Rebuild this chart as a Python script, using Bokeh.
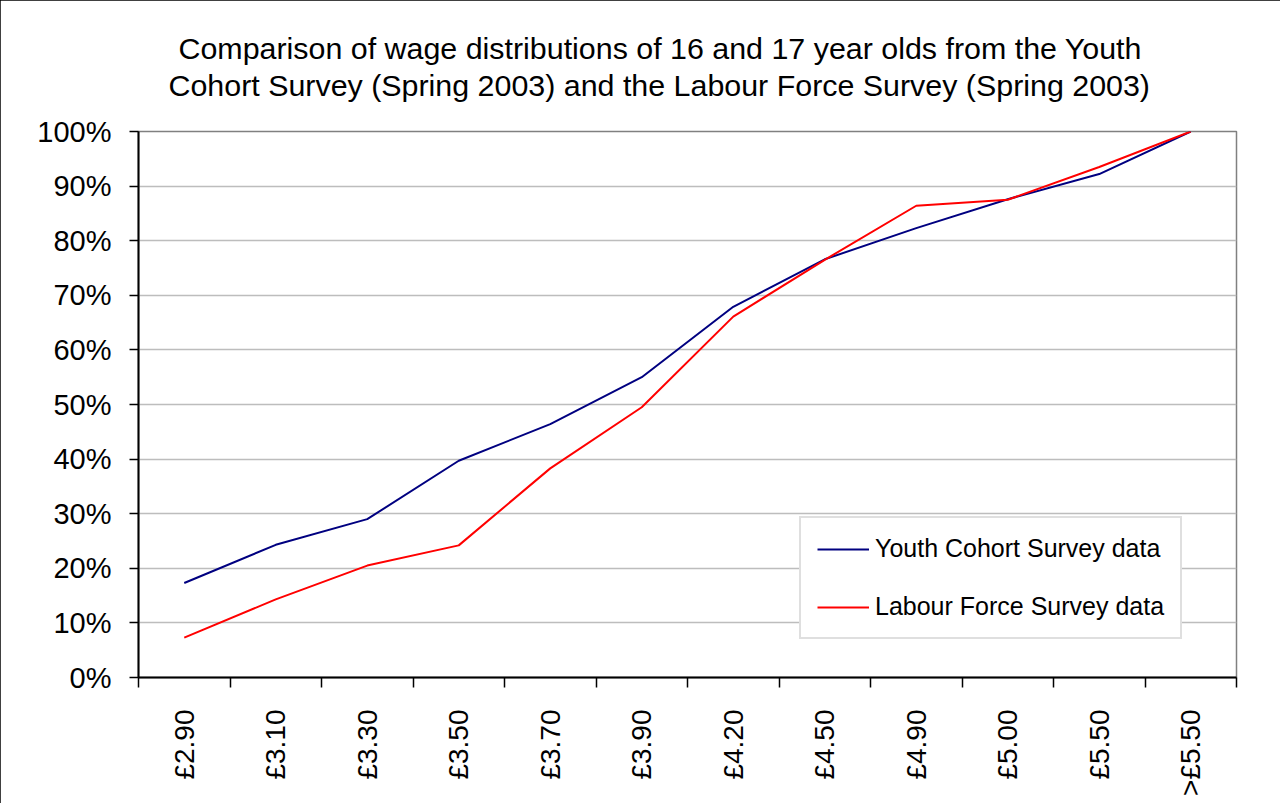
import math
from bokeh.plotting import figure
from bokeh.models import (Range1d, FixedTicker, Title, Legend, LegendItem)
from bokeh.embed import file_html
from bokeh.resources import INLINE

# ---- data ----
categories = ["£2.90", "£3.10", "£3.30", "£3.50", "£3.70", "£3.90",
              "£4.20", "£4.50", "£4.90", "£5.00", "£5.50", ">£5.50"]
youth_cohort = [17.3, 24.3, 29.0, 39.7, 46.4, 55.0, 67.9, 76.6, 82.3, 87.6, 92.2, 100.0]
labour_force = [7.3, 14.3, 20.5, 24.2, 38.3, 49.5, 66.1, 76.5, 86.4, 87.5, 93.5, 100.0]
y_ticks = [0, 10, 20, 30, 40, 50, 60, 70, 80, 90, 100]
y_tick_labels = ["0%", "10%", "20%", "30%", "40%", "50%", "60%", "70%", "80%", "90%", "100%"]
title_lines = ["Comparison of wage distributions of 16 and 17 year olds from the Youth",
               "Cohort Survey (Spring 2003) and the Labour Force Survey (Spring 2003)"]
series_names = ["Youth Cohort Survey data", "Labour Force Survey data"]

FONT = "Liberation Sans"

n = len(categories)
xs = [i + 0.5 for i in range(n)]

p = figure(width=1280, height=803, output_backend="svg", toolbar_location=None,
           x_range=Range1d(0, n), y_range=Range1d(0, 100),
           min_border_left=138, min_border_right=44,
           min_border_top=131, min_border_bottom=126)
p.styles = {"outline": "2px solid black", "outline-offset": "-2px"}
p.background_fill_color = "white"
p.border_fill_color = "white"
p.outline_line_color = "#808080"
p.outline_line_width = 1.5

# x axis: labels at slot centres, tick marks at slot boundaries
p.xaxis.ticker = FixedTicker(ticks=xs, minor_ticks=list(range(n + 1)))
p.xaxis.major_label_overrides = {x: c for x, c in zip(xs, categories)}
p.xaxis.major_label_orientation = math.pi / 2
p.xaxis.major_tick_line_color = None
p.xaxis.major_tick_out = 10
p.xaxis.major_tick_in = 0
p.xaxis.minor_tick_line_color = "black"
p.xaxis.minor_tick_line_width = 1.5
p.xaxis.minor_tick_out = 10
p.xaxis.minor_tick_in = 0
p.xaxis.major_label_standoff = 22
p.xaxis.major_label_text_font = FONT
p.xaxis.major_label_text_font_size = "28px"
p.xaxis.major_label_text_color = "black"
p.xaxis.axis_line_color = "black"
p.xaxis.axis_line_width = 2

# y axis
p.yaxis.ticker = FixedTicker(ticks=y_ticks, minor_ticks=[])
p.yaxis.major_label_overrides = {t: l for t, l in zip(y_ticks, y_tick_labels)}
p.yaxis.major_tick_out = 9
p.yaxis.major_tick_in = 0
p.yaxis.major_tick_line_color = "black"
p.yaxis.major_tick_line_width = 1.5
p.yaxis.minor_tick_line_color = None
p.yaxis.major_label_standoff = 18
p.yaxis.major_label_text_font = FONT
p.yaxis.major_label_text_font_size = "29px"
p.yaxis.major_label_text_color = "black"
p.yaxis.axis_line_color = "black"
p.yaxis.axis_line_width = 2

p.xgrid.grid_line_color = None
p.ygrid.ticker = FixedTicker(ticks=y_ticks)
p.ygrid.grid_line_color = "#bdbdbd"
p.ygrid.grid_line_width = 1.5

r1 = p.line(xs, youth_cohort, line_color="#000080", line_width=2)
r2 = p.line(xs, labour_force, line_color="#ff0000", line_width=2)

legend = Legend(items=[LegendItem(label=series_names[0], renderers=[r1]),
                       LegendItem(label=series_names[1], renderers=[r2])],
                location=(661, 38), orientation="vertical")
legend.label_text_font = FONT
legend.label_text_font_size = "25px"
legend.label_text_color = "black"
legend.glyph_width = 52
legend.glyph_height = 28
legend.label_height = 28
legend.label_standoff = 6
legend.padding = 16
legend.spacing = 29
legend.margin = 0
legend.border_line_color = "#c0c0c0"
legend.border_line_width = 2
legend.background_fill_color = "white"
legend.background_fill_alpha = 1
p.add_layout(legend)

# two-line title: second line nearest the plot, first line above it
p.add_layout(Title(text=title_lines[1], align="left", offset=30,
                   text_font=FONT, text_font_size="30.4px",
                   text_font_style="normal", text_color="black",
                   standoff=60), "above")
p.add_layout(Title(text=title_lines[0], align="left", offset=40,
                   text_font=FONT, text_font_size="30.4px",
                   text_font_style="normal", text_color="black",
                   standoff=-58), "above")

open("out.html", "w").write(file_html(p, INLINE))
